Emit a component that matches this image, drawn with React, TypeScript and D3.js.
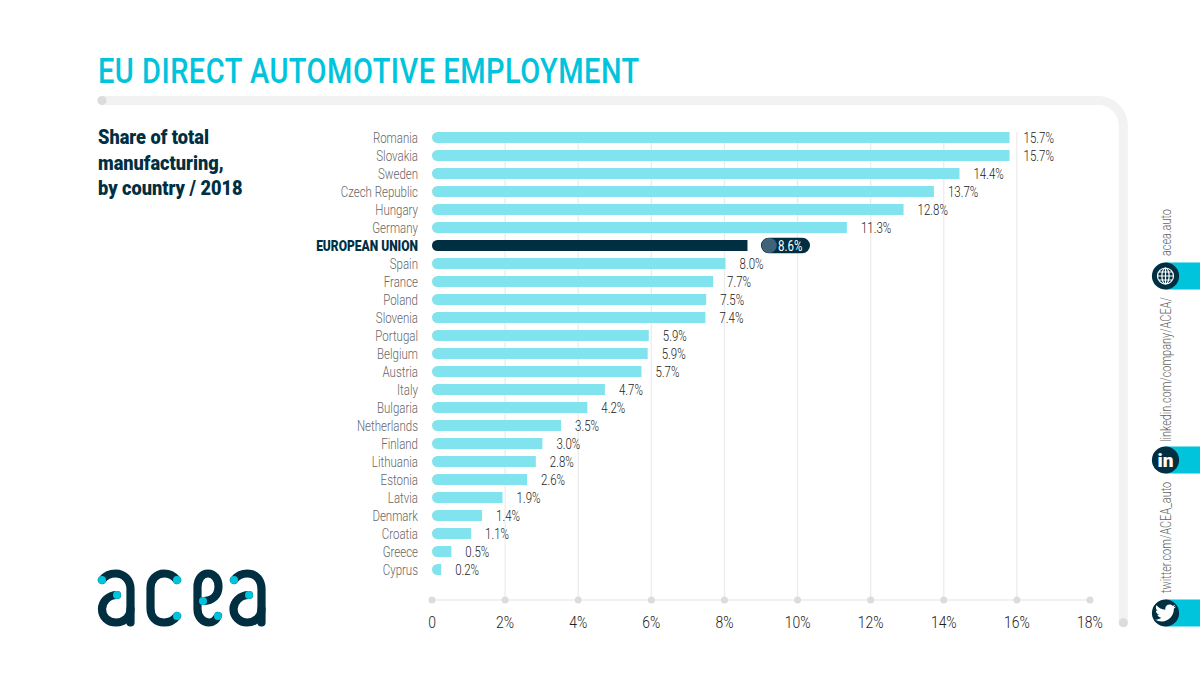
// App.tsx
import React from 'react';
import * as d3 from 'd3';

const countries = [
  'Romania', 'Slovakia', 'Sweden', 'Czech Republic', 'Hungary', 'Germany', 'EUROPEAN UNION',
  'Spain', 'France', 'Poland', 'Slovenia', 'Portugal', 'Belgium', 'Austria', 'Italy',
  'Bulgaria', 'Netherlands', 'Finland', 'Lithuania', 'Estonia', 'Latvia', 'Denmark',
  'Croatia', 'Greece', 'Cyprus',
];
// printed labels
const shares = [
  15.7, 15.7, 14.4, 13.7, 12.8, 11.3, 8.6, 8.0, 7.7, 7.5, 7.4, 5.9, 5.9, 5.7, 4.7, 4.2, 3.5,
  3.0, 2.8, 2.6, 1.9, 1.4, 1.1, 0.5, 0.2,
];
// bar lengths as drawn in the picture, slightly off the printed labels
const barLengths = [
  15.8, 15.8, 14.43, 13.73, 12.9, 11.35, 8.63, 8.03, 7.69, 7.5, 7.48, 5.93, 5.9, 5.73, 4.73,
  4.25, 3.53, 3.02, 2.84, 2.6, 1.93, 1.37, 1.07, 0.53, 0.25,
];
const subtitleLines = ['Share of total', 'manufacturing,', 'by country / 2018'];

const EU = 'EUROPEAN UNION';
const NAVY = '#002f42';
const CYAN = '#00c4dc';
const BAR = '#80e3ee';
const FRAME = '#f2f2f2';
const DOT = '#dcdcdc';
const GRID = '#ececec';

const x = d3.scaleLinear().domain([0, 18]).range([432, 1090]);
const y = d3.scaleBand().domain(countries).range([128.5, 578.5]);
const barHeight = 11;

// Roboto squeezed sideways, the condensed cut isn't installed
const Cond = ({ x: px, y: py, sx = 0.82, rotate = 0, children, ...rest }: any) => (
  <text transform={`translate(${px},${py}) rotate(${rotate}) scale(${sx},1)`} {...rest}>
    {children}
  </text>
);

const leftRoundedBar = (x0: number, x1: number, top: number, h: number) => {
  const r = Math.min(h / 2, x1 - x0);
  const p = d3.path();
  p.moveTo(x1, top);
  p.lineTo(x0 + r, top);
  p.arcTo(x0, top, x0, top + r, r);
  p.lineTo(x0, top + h - r);
  p.arcTo(x0, top + h, x0 + r, top + h, r);
  p.lineTo(x1, top + h);
  p.closePath();
  return p.toString();
};

const Logo = () => (
  <g fill="none" stroke={NAVY} strokeWidth={8.2} strokeLinecap="round">
    <path d="M102 580 C105 576 110 573.5 115.5 573.5 C124 573.5 130.5 580 130.5 589 L130.5 622.5" />
    <path d="M117 595 C108 595 102 602 102 609 C102 617 108 622.5 116 622.5 C124 622.5 130.5 617 130.5 609" />
    <path d="M177 580 C174 576 169 573.5 164 573.5 C156 573.5 150.5 580 150.5 588 L150.5 608 C150.5 617 156 622.5 164 622.5 C169 622.5 174 620 177 616" />
    <path d="M203 601 C213 601 218.5 595 218.5 586.5 C218.5 579 214 573.5 208 573.5 C202 573.5 197.5 579 197.5 587 L197.5 609 C197.5 617 203 622.5 209 622.5 C213 622.5 216 620 218 616" />
    <path d="M234 580 C237 576 242 573.5 247.5 573.5 C256 573.5 261.5 580 261.5 589 L261.5 622.5" />
    <path d="M249 595 C240 595 233.5 602 233.5 609 C233.5 617 240 622.5 247 622.5 C255 622.5 261.5 617 261.5 609" />
    <g fill={CYAN} stroke="none">
      {[[102, 580], [117, 595], [177, 580], [177, 616], [203, 601], [218, 616], [234, 580], [249, 595]].map(
        ([cx, cy]) => (
          <circle key={`${cx}-${cy}`} cx={cx} cy={cy} r={4} />
        ),
      )}
    </g>
  </g>
);

const SocialTab = ({ cy, children }: { cy: number; children: React.ReactNode }) => (
  <g>
    <rect x={1165} y={cy - 13.5} width={35} height={27} fill={CYAN} />
    <circle cx={1165.5} cy={cy} r={13.6} fill={NAVY} />
    {children}
  </g>
);

const sideText = { sx: 0.78, rotate: -90, fontSize: 14, fontWeight: 300, fill: '#666' };

const App = () => {
  const ticks = x.ticks(9);
  return (
    <svg
      width={1200}
      height={675}
      style={{ position: 'absolute', left: 0, top: 0, background: '#fff' }}
      fontFamily="Roboto, sans-serif"
    >
      <Cond x={98} y={83} sx={0.828} fontSize={35} fontWeight={500} fill={CYAN} letterSpacing={0.6}>
        EU DIRECT AUTOMOTIVE EMPLOYMENT
      </Cond>

      <path d="M102 100.5 H1098 A25 25 0 0 1 1123.3 125.5 V622.7" fill="none" stroke={FRAME} strokeWidth={9} />
      <circle cx={102} cy={100.5} r={4.6} fill={DOT} />
      <circle cx={1123.3} cy={622.7} r={4.6} fill={DOT} />

      {subtitleLines.map((line, i) => (
        <Cond key={line} x={98} y={144 + i * 25.5} sx={0.91} fontSize={20} fontWeight={900} fill={NAVY}>
          {line}
        </Cond>
      ))}

      {/* grid and axis */}
      {ticks.filter((t) => t > 0 && t < 18).map((t) => (
        <line key={t} x1={x(t)} x2={x(t)} y1={132} y2={600} stroke={GRID} strokeWidth={1.3} />
      ))}
      <line x1={x(0)} x2={x(18)} y1={600} y2={600} stroke={GRID} strokeWidth={1.5} />
      {ticks.map((t) => (
        <g key={t}>
          <circle cx={x(t)} cy={600} r={3.5} fill={DOT} />
          <Cond x={x(t)} y={628} textAnchor="middle" fontSize={17} fontWeight={300} fill="#222">
            {t === 0 ? '0' : `${t}%`}
          </Cond>
        </g>
      ))}

      {/* bars */}
      {countries.map((c, i) => {
        const isEU = c === EU;
        const top = (y(c) as number) + (y.bandwidth() - barHeight) / 2;
        const mid = top + barHeight / 2;
        const end = x(barLengths[i]);
        const label = `${shares[i].toFixed(1)}%`;
        return (
          <g key={c}>
            <path d={leftRoundedBar(x(0), end, top, barHeight)} fill={isEU ? NAVY : BAR} />
            <Cond
              x={418}
              y={mid + 5.4}
              textAnchor="end"
              sx={isEU ? 0.83 : 0.82}
              fontSize={isEU ? 14.5 : 14}
              fontWeight={isEU ? 900 : 300}
              fill={isEU ? NAVY : '#666'}
            >
              {c}
            </Cond>
            {isEU ? (
              <g>
                <rect x={end + 13.5} y={mid - 7.8} width={49} height={15.6} rx={7.8} fill={NAVY} />
                <circle cx={end + 21.8} cy={mid} r={7.5} fill="#41637a" />
                <Cond x={end + 30.5} y={mid + 5} fontSize={14} fontWeight={400} fill="#fff">
                  {label}
                </Cond>
              </g>
            ) : (
              <Cond x={end + 14} y={mid + 5.6} fontSize={14} fontWeight={300} fill="#222">
                {label}
              </Cond>
            )}
          </g>
        );
      })}

      <Logo />

      {/* side links */}
      <Cond x={1171} y={256} {...sideText}>acea.auto</Cond>
      <Cond x={1171} y={442} {...sideText}>linkedin.com/company/ACEA/</Cond>
      <Cond x={1171} y={593} {...sideText}>twitter.com/ACEA_auto</Cond>

      <SocialTab cy={276}>
        <g fill="none" stroke="#fff" strokeWidth={1.2}>
          <circle cx={1165.5} cy={276} r={8} />
          <ellipse cx={1165.5} cy={276} rx={3.6} ry={8} />
          <path d="M1165.5 268 V284 M1157.5 276 H1173.5 M1158.7 272 H1172.3 M1158.7 280 H1172.3" />
        </g>
      </SocialTab>
      <SocialTab cy={460}>
        <text x={1165.5} y={466.5} textAnchor="middle" fontSize={19} fontWeight={900} fill="#fff">
          in
        </text>
      </SocialTab>
      <SocialTab cy={613}>
        <path
          transform="translate(1153.5,600.5) scale(1)"
          fill="#fff"
          d="M22.46,6C21.69,6.35 20.86,6.58 20,6.69C20.88,6.16 21.56,5.32 21.88,4.31C21.05,4.81 20.13,5.16 19.16,5.36C18.37,4.5 17.26,4 16,4C13.65,4 11.73,5.92 11.73,8.29C11.73,8.63 11.77,8.96 11.84,9.27C8.28,9.09 5.11,7.38 3,4.79C2.63,5.42 2.42,6.16 2.42,6.94C2.42,8.43 3.17,9.75 4.33,10.5C3.62,10.5 2.96,10.3 2.38,10C2.38,10 2.38,10 2.38,10.03C2.38,12.11 3.86,13.85 5.82,14.24C5.46,14.34 5.08,14.39 4.69,14.39C4.42,14.39 4.15,14.36 3.89,14.31C4.43,16 6,17.26 7.89,17.29C6.43,18.45 4.58,19.13 2.56,19.13C2.22,19.13 1.88,19.11 1.54,19.07C3.44,20.29 5.7,21 8.12,21C16,21 20.33,14.46 20.33,8.79C20.33,8.6 20.33,8.42 20.32,8.23C21.16,7.63 21.88,6.87 22.46,6Z"
        />
      </SocialTab>
    </svg>
  );
};

export default App;
